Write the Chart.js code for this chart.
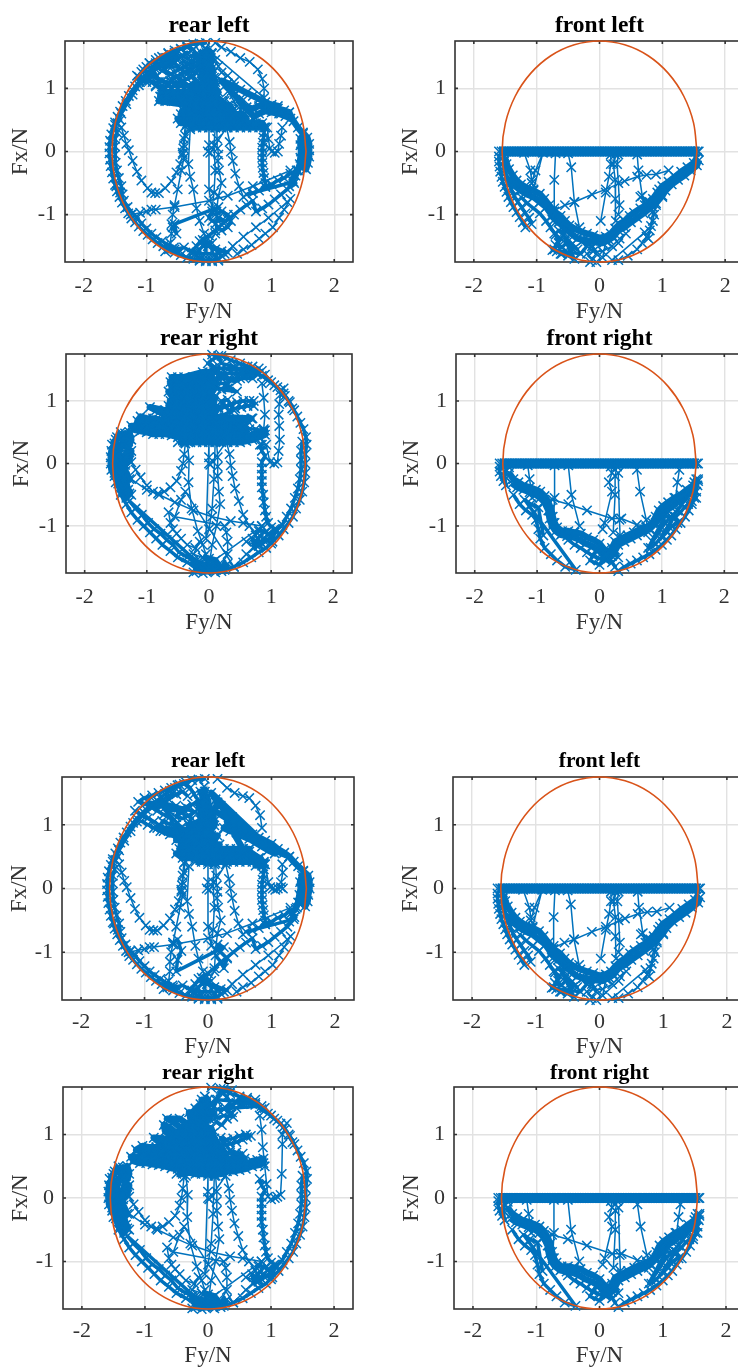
<!DOCTYPE html>
<html>
<head>
<meta charset="utf-8">
<style>
html, body { margin: 0; padding: 0; background: #fff; width: 738px; height: 1367px; overflow: hidden; position: relative; }
canvas { position: absolute; }
</style>
<script src="https://cdn.jsdelivr.net/npm/chart.js@4/dist/chart.umd.min.js"></script>
</head>
<body>
<script>
// -------------------------
// TICKS
// -------------------------
const fyTicks = [-2, -1, 0, 1, 2];
const fxTicks = [-1, 0, 1];

// -------------------------
// FRICTION ELLIPSE (fy, fx, fy, fx ...)
// -------------------------
const ellipseLine = [1.55,0,1.497,.453,1.342,.875,1.096,1.237,.775,1.516,.401,1.69,0,1.75,-.401,1.69,-.775,1.516,-1.096,1.237,-1.342,.875,-1.497,.453,-1.55,0,-1.497,-.453,-1.342,-.875,-1.096,-1.237,-.775,-1.516,-.401,-1.69,0,-1.75,.401,-1.69,.775,-1.516,1.096,-1.237,1.342,-.875,1.497,-.453,1.55,0];

// -------------------------
// REAR LEFT
// -------------------------
const rearLeftRim = [-.05,1.72,-.15,1.71,-.25,1.7,-.35,1.67,-.45,1.63,-.52,1.58,-.6,1.53,-.68,1.48,-.75,1.42,-.83,1.36,-.9,1.3,-.98,1.24,-1.05,1.17,-1.12,1.1,-1.18,1.03,-1.22,.97,-1.28,.88,-1.33,.8,-1.38,.72,-1.42,.63,-1.46,.55,-1.5,.46,-1.53,.37,-1.56,.27,-1.58,.17,-1.59,.07,-1.59,-.03,-1.58,-.13,-1.57,-.23,-1.55,-.33,-1.53,-.43,-1.5,-.53,-1.47,-.63,-1.43,-.72,-1.39,-.81,-1.34,-.9,-1.29,-.98,-1.24,-1.06,-1.18,-1.12,-1.12,-1.19,-1.05,-1.26,-.98,-1.32,-.9,-1.39,-.82,-1.45,-.73,-1.5,-.64,-1.55,-.55,-1.6,-.45,-1.64,-.35,-1.68,-.25,-1.7,-.15,-1.73,-.05,-1.74,.05,-1.74,.15,-1.73];
const rearLeftRimB = [-.55,1.5,-.7,1.4,-.85,1.3,-1,1.18,-1.12,1.05,-1.22,.9,-1.32,.75,-1.4,.6,-1.46,.45,-1.42,.5];
const rearLeftRimC = [-1.48,-.55,-1.42,-.65,-1.36,-.78,-1.3,-.88,-1.22,-.98,-1.15,-1.05,-1.08,-1.14,-1,-1.22,-.92,-1.3,-.84,-1.36,-.75,-1.42,-.66,-1.48,-.56,-1.52,-.46,-1.58];
const rearLeftInnerRim = [-1.5,.42,-1.47,.3,-1.5,.2,-1.5,.08,-1.5,-.05,-1.49,-.18,-1.47,-.3,-1.44,-.42,-1.4,-.55,-1.38,-.68];
const rearLeftArc = [-1.4,.38,-1.36,.25,-1.32,.12,-1.28,.02,-1.22,-.15,-1.15,-.32,-1.08,-.46,-.98,-.58,-.92,-.65,-.86,-.66,-.8,-.66,-.7,-.58,-.6,-.47,-.52,-.33,-.46,-.2,-.42,-.05,-.4,.1,-.38,.25,-.36,.42];
const rearLeftSpokes = [-.3,.35,-.33,-.2,-.3,-.4,-.25,-.6,-.2,-.9,-.15,-1.1,-.08,-1.3,-.02,-1.5,.1,-1.3,.12,-.95,.15,-.7,.2,-.5,.16,-.3,.14,-.15,.15,-.05,.14,.05,.13,.2,.12,.4,.1,.38,.08,.1,.1,-.3,.08,-.65,.05,-.9,0,-.6,0,.38,0,.1,-.02,0,.02,-.02,.28,.38,.33,.15,.35,0,.38,-.15,.42,-.35,.48,-.55,.55,-.72];
const rearLeftSpokeB = [-.38,.4,-.4,.2,-.41,.05,-.42,-.02,-.4,-.1,-.44,-.3,-.5,-.6,-.55,-.85,-.58,-1,-.6,-1.15,-.6,-1.3,-.62,-1.45,-.6,-1.55];
const rearLeftStrip = [.88,.38,.88,.3,.87,.22,.86,.14,.85,.06,.85,-.02,.85,-.1,.85,-.18,.86,-.26,.87,-.34,.88,-.42,.9,-.5,.9,-.56];
const rearLeftLongLine = [-1.25,-1,-1.1,-.97,-1,-.95,-.92,-.92,-.85,-.92,-.55,-.88,0,-.78,.3,-.7,.7,-.55,1.3,-.3];
const rearLeftLower = [1.4,-.3,1.3,-.35,1.2,-.42,1.1,-.46,1,-.52,.9,-.56,.8,-.62,.7,-.66,.6,-.68,1.35,-.48,1.25,-.6,1.15,-.68,1.05,-.76,.95,-.84,.85,-.9,.75,-.95,.7,-.78,.6,-.85,.5,-.92,.4,-1,.3,-1.08,.2,-1.16,.1,-1.25,0,-1.33,-.1,-1.4,-.2,-1.5,-.3,-1.6];
const rearLeftOuterLower = [1.3,-.75,1.2,-.92,1.12,-1.05,1.02,-1.2,.9,-1.3,.8,-1.38,.68,-1.48,.55,-1.55,.45,-1.62];
const rearLeftChord = [1.25,-.8,.95,-1.05,.75,-1.2,.55,-1.35,.38,-1.5,.25,-1.62];
const rearLeftBottom = [-.7,-1.58,-.55,-1.55,-.4,-1.52,-.25,-1.6,-.15,-1.7,-.05,-1.72,.05,-1.72,.15,-1.7,.2,-1.65,.1,-1.55,0,-1.5,-.1,-1.5,-.2,-1.6,-.1,-1.62,0,-1.62,.1,-1.63,.2,-1.58,.3,-1.6,-.15,-1.42,-.05,-1.42,.05,-1.45];

const rl1Core = [-.3,.38,-.2,.38,-.1,.38,0,.38,.1,.38,.2,.38,.3,.38,.4,.38,.5,.38,.6,.38,.7,.38,.8,.38,.9,.38,.85,.45,.75,.45,.65,.45,.55,.45,.45,.45,.35,.45,.25,.45,.15,.45,.05,.45,-.05,.45,-.15,.45,-.25,.45,-.35,.45,-.45,.45,-.5,.52,-.4,.52,-.3,.52,-.2,.52,-.1,.52,0,.52,.1,.52,.2,.52,.3,.52,.4,.52,.5,.52,.6,.52,.55,.59,.45,.59,.35,.59,.25,.59,.15,.59,.05,.59,-.05,.59,-.15,.59,-.25,.59,-.35,.59,-.45,.59,-.42,.66,-.32,.66,-.22,.66,-.12,.66,-.02,.66,.08,.66,.18,.66,.28,.66,.38,.66,.3,.73,.2,.73,.1,.73,0,.73,-.1,.73,-.2,.73,-.3,.73,-.8,.8,-.7,.8,-.6,.8,-.5,.8,-.4,.8,-.3,.8,-.2,.8,-.1,.8,0,.8,.1,.8,.2,.8,.12,.87,.02,.87,-.08,.87,-.18,.87,-.28,.87,-.38,.87,-.48,.87,-.58,.87,-.68,.87,-.78,.87,-.75,.94,-.65,.94,-.55,.94,-.45,.94,-.35,.94,-.25,.94,-.15,.94,-.05,.94,.05,.94,.15,.94,.1,1.01,0,1.01,-.1,1.01,-.2,1.01,-.3,1.01,-.1,1.1,0,1.1,.1,1.1,.08,1.17,-.02,1.17,-.12,1.17,-.12,1.24,-.02,1.24,.06,1.24,.05,1.32,-.04,1.32,-.14,1.32,-.14,1.4,-.05,1.4,.03,1.4,.03,1.48,-.05,1.48,-.14,1.48,-.12,1.56,-.04,1.56,.04,1.56,-.06,1.64];
const rl1Hatch = [-1.15,1.2,-1.05,1.17,-.95,1.12,-.85,1.05,-.75,1,-.65,.95,-.55,.88,-.45,.8,-.65,1.07,-.75,1.12,-.85,1.18,-.95,1.25,-1.05,1.3,-.95,1.4,-.85,1.45,-.75,1.5,-.65,1.55,-.55,1.6,-.45,1.62,-.35,1.65,-.25,1.62,-.2,1.5,-.15,1.4,-.3,1.3,-.4,1.25,-.5,1.2,-.6,1.15,-.55,1.05,-.45,1.1,-.35,1.15,-.25,1.2,-.22,1.1,-.32,1.05,-.72,1.3,-.65,1.35,-.55,1.42,-.45,1.5,-.35,1.55,-.85,1.35,-.75,1.28,-.62,1.22,-.38,1.35,-.28,1.42,-.25,1.3];
const rl1Fill = [-.65,1.56,-.55,1.56,-.5,1.48,-.6,1.48,-.7,1.48,-.8,1.48,-.95,1.4,-.85,1.4,-.75,1.4,-.65,1.4,-.55,1.4,-.48,1.34,-.6,1.34,-1,1.34,-1.08,1.26,-.98,1.26,-.88,1.26,-.85,1.18,-1,1.18,-1.12,1.18,-1.1,1.1,-1,1.1,-.9,1.1,-.8,1.1,-.7,1.1,-.6,1.1,-.5,1.1,-.4,1.1,-.35,1.03,-.45,1.03,-.55,1.03,-.65,1.03,-.75,1.03,-.85,1.03];
const rl1Columns = [-.42,1.2,-.42,1.28,-.42,1.36,-.42,1.44,-.42,1.52,-.35,1.55,-.35,1.47,-.35,1.39,-.35,1.31,-.35,1.23,-.28,1.2,-.28,1.28,-.28,1.36,-.28,1.44,-.28,1.52,-.2,1.55,-.2,1.47,-.2,1.39,-.2,1.31,-.2,1.23];
const rl1RightBranch = [.5,.72,.6,.7,.7,.68,.8,.72,.9,.72,1,.7,1.1,.68,1.2,.65,1.28,.62,1.22,.56,1.12,.6,1,.62,.9,.64,.8,.6,.72,.55,.2,1.12,.3,1.08,.4,1.03,.5,.98,.6,.93,.7,.88,.8,.83,.9,.78,1,.74,1.1,.72,1.05,.65,1.15,.6,1.3,.52,1.28,.62,1.35,.48,1.42,.38,1.5,.28];
const rl1TopArc = [.1,1.72,.2,1.65,.35,1.58,.5,1.48,.65,1.42,.78,1.3,.85,1.15,.88,1,.88,.85,.05,1.55,.1,1.45,.15,1.35,.2,1.25,.3,1.2,.4,1.1,.25,.8,.35,.75,.45,.72,.3,.95,.4,.9,.55,.82];
const rl1RightBlob = [1.5,.3,1.57,.22,1.6,.12,1.6,.02,1.6,-.08,1.58,-.18,1.55,-.28,1.5,-.25,1.52,-.15,1.54,-.05,1.53,.05,1.52,.15,1.46,.2,1.46,.1,1.47,0,1.46,-.1,1.45,-.2,1.42,-.3,1.38,-.38,1.32,-.45,1.36,-.5,1.28,-.55];
const rl1Loop = [.93,.38,.95,.2,.97,.05,1,0,1.05,-.02,1.1,0,1.12,.12,1.15,.25,1.17,.38];
const rl1Middle = [.1,-1,.2,-.95,.3,-1,.35,-1.1,.3,-1.2,.2,-1.25,.1,-1.15,.15,-1.05,.25,-1.1,.05,-1.1,0,-1.05,.05,-.95,.15,-.88,-.55,-1.15,-.52,-1.3,-.58,-1.2];

const rl3Core = [-.2,.42,-.1,.42,0,.42,.1,.42,.2,.42,.3,.42,.4,.42,.5,.42,.6,.42,.7,.42,.8,.42,.88,.42,.85,.36,.75,.36,.82,.48,.7,.48,.6,.48,.5,.48,.4,.48,.3,.48,.2,.48,.1,.48,0,.48,-.1,.48,-.2,.48,-.3,.48,-.4,.48,-.5,.55,-.4,.55,-.3,.55,-.2,.55,-.1,.55,0,.55,.1,.55,.2,.55,.3,.55,.4,.55,.5,.55,.6,.55,.65,.62,.55,.62,.45,.62,.35,.62,.25,.62,.15,.62,.05,.62,-.05,.62,-.15,.62,-.25,.62,-.35,.62,-.45,.62,-.42,.69,-.32,.69,-.22,.69,-.12,.69,-.02,.69,.08,.69,.18,.69,-.5,.76,-.4,.76,-.3,.76,-.2,.76,-.1,.76,0,.76,.1,.76,.15,.83,.05,.83,-.05,.83,-.15,.83,-.25,.83,-.35,.83,-.45,.83,-.6,.85,-.7,.9,-.8,.95,-.55,.92,-.45,.92,-.35,.92,-.25,.92,-.15,.92,-.05,.92,.05,.92,.1,.99,0,.99,-.1,.99,-.2,.99,-.3,.99,-.1,1.06,0,1.06,.1,1.06,.08,1.13,-.02,1.13,-.12,1.13,-.12,1.2,-.02,1.2,.06,1.2,.02,1.28,-.06,1.28,-.14,1.28,-.14,1.36,-.06,1.36,0,1.36,-.02,1.44,-.08,1.44,-.12,1.52,-.05,1.52,-.06,1.6];
const rl3Hatch = [-1.15,1.22,-1.05,1.15,-.95,1.1,-.85,1.05,-.75,.98,-.65,.93,-.55,.88,-.45,.8,-.6,1.12,-.7,1.16,-.8,1.22,-.9,1.28,-1,1.33,-1.1,1.36,-1,1.42,-.88,1.46,-.78,1.5,-.68,1.54,-.58,1.58,-.48,1.62,-.38,1.64,-.28,1.58,-.22,1.48,-.15,1.38,-.25,1.32,-.35,1.28,-.45,1.22,-.5,1.12,-.4,1.1,-.3,1.15,-.2,1.2,-.8,1.38,-.72,1.32,-.62,1.4,-.5,1.48,-.4,1.52,-.32,1.45];
const rl3Fill = [-1.05,1.06,-.95,1,-.85,.95,-.75,.9,-.72,1.06,-.62,1.02,-.52,1,-.42,.96,-.7,1.25,-.6,1.2,-.5,1.3,-.4,1.2,-.3,1.25,-.95,1.36,-.85,1.3,-.55,1.25,-.25,1.1,-.3,1.05];
const rl3RightBranch = [.5,.52,.6,.5,.7,.45,.8,.4,.88,.4,.8,.48,.65,.58,.55,.62,.3,1.05,.4,1,.5,.95,.6,.9,.7,.85,.8,.8,.9,.75,1,.7,1.1,.62,1.2,.56,1.28,.5,.25,.95,.35,.9,.45,.88,.55,.82,.65,.78,.75,.72,.85,.66,.95,.6,1.05,.55,.05,1.5,.12,1.4,.2,1.3,.28,1.2,.38,1.12,.15,1.35,.1,1.22,1.28,.5,1.35,.42,1.42,.35,1.5,.28];
const rl3TopArc = [.15,1.72,.3,1.58,.42,1.5,.55,1.45,.65,1.42,.75,1.3,.82,1.15,.85,.95];
const rl3RightBlob = [1.5,.27,1.58,.2,1.6,.1,1.6,0,1.58,-.1,1.57,-.2,1.53,-.28,1.48,-.2,1.5,-.1,1.52,0,1.5,.1,1.48,.2,1.45,.1,1.46,0,1.44,-.1,1.42,-.22,1.38,-.32,1.32,-.38,1.36,-.45,1.28,-.52];
const rl3Loop = [.9,.38,.95,.1,.98,.02,1.02,0,1.06,-.02,1.1,0,1.15,.02,1.18,0,1.15,.1,1.18,.25,1.17,.38];
const rl3Middle = [.12,-1.05,.2,-1.15,.25,-1.25,.3,-1.1,.2,-1,.15,-.88,.25,-.92,-.5,-1.3,-.48,-1.12,-.42,-.98,-.48,-.8,-.55,-.85];

// -------------------------
// REAR RIGHT
// -------------------------
const rearRightRim = [.05,1.74,.2,1.72,.35,1.65,.5,1.6,.62,1.55,.75,1.47,.85,1.4,.95,1.33,1.05,1.25,1.15,1.17,1.22,1.08,1.3,.98,1.37,.85,1.42,.75,1.47,.65,1.52,.55,1.56,.42,1.57,.3,1.55,.15,1.55,0,1.55,-.15,1.53,-.3,1.5,-.45,1.46,-.58,1.4,-.72,1.35,-.85,1.28,-.95,1.2,-1.05,1.12,-1.15,1.02,-1.25,.92,-1.35,.8,-1.42,.68,-1.5,.55,-1.58,.4,-1.65,.25,-1.7,.1,-1.74,-.1,-1.75,-.25,-1.74];
const rearRightRimB = [1.5,.35,1.48,.2,1.48,.05,1.48,-.1,1.46,-.25,1.43,-.4,1.38,-.55,1.32,-.72,1.25,-.85,1.18,-.98,1.08,-1.08,1,-1.18,.9,-1.25,.8,-1.32];
const rearRightRimC = [.9,1.42,1,1.3,1.1,1.22,1.2,1.12,1.28,1,1.34,.88];
const rearRightLeftArc = [-1.5,-.3,-1.42,-.5,-1.33,-.65,-1.25,-.78,-1.15,-.9,-1.05,-1,-.95,-1.1,-.85,-1.2,-.75,-1.3,-.62,-1.4,-.5,-1.5,-.35,-1.58,-.2,-1.65,-.05,-1.7,-1.28,-.6,-1.18,-.72,-1.08,-.82,-.98,-.95,-.88,-1.05,-.78,-1.12,-.68,-1.22,-.58,-1.3,-.48,-1.42,-.35,-1.5,-.2,-1.55];
const rearRightLeftBlob = [-1.42,.5,-1.48,.42,-1.52,.32,-1.57,.2,-1.58,.1,-1.58,0,-1.57,-.1,-1.52,-.2,-1.46,-.32,-1.4,-.45,-1.33,-.55,-1.28,-.48,-1.32,-.35,-1.38,-.2,-1.42,-.08,-1.45,.05,-1.44,.18,-1.4,.3,-1.33,.42,-1.28,.5,-1.25,.38,-1.3,.25,-1.35,.1,-1.38,0,-1.34,-.12,-1.28,-.25,-1.5,.1,-1.5,-.05,-1.5,.25];
const rearRightBlobB = [-1.56,.3,-1.5,.38,-1.42,.42,-1.35,.48,-1.3,.35,-1.36,.3,-1.42,.3,-1.48,.25,-1.55,.1,-1.48,.1,-1.4,.1,-1.32,.15,-1.25,.2,-1.28,.05,-1.35,-.02,-1.42,-.05,-1.5,-.1,-1.52,-.15,-1.45,-.2,-1.38,-.3,-1.3,-.42,-1.25,-.5];
const rearRightInner = [-1.25,.02,-1.18,-.1,-1.1,-.22,-1,-.35,-.9,-.45,-.82,-.48,-.72,-.45,-.62,-.38,-.52,-.28,-.45,-.12,-.42,0,-.4,.15,-.38,.32];
const rearRightLongLine = [-1.25,-.25,-1,-.42,-.8,-.5,-.55,-.62,-.25,-.75,.05,-.85,.35,-.92,.55,-.95,.85,-1];
const rearRightSpokes = [-.35,.35,-.32,.05,-.33,-.3,-.28,-.72,-.18,-1.08,-.1,-1.3,-.05,-1.45,0,-1.65,.05,-1.3,.12,-1,.18,-.65,.16,-.45,.14,-.2,.14,-.05,.14,.1,.12,.35,.1,.35,.08,-.25,.05,-.72,0,-1.05,-.05,-1.2,0,.35,0,.1,0,0,.02,-.02,.28,.35,.33,.15,.35,-.03,.38,-.2,.42,-.4,.48,-.6,.55,-.82,.65,-1,.75,-1.15,.82,-1.25];
const rearRightStrip = [.82,.3,.85,.2,.9,.12,.85,.02,.85,-.08,.85,-.18,.85,-.28,.85,-.38,.87,-.5,.88,-.62,.9,-.75,.92,-.85,.95,-.95,1,-1.02];
const rearRightLower = [-.65,-.78,-.62,-.95,-.58,-1.05,-.52,-1.12,-.45,-1.2,-.35,-1.3,-.22,-1.35,-.15,-1.25,-.25,-1.45,-.1,-1.5,.05,-1.58,.2,-1.62,.3,-1.45,.3,-1.25,.28,-1.1,.25,-1,-.55,-.85,-.45,-.58,-.38,-.45,.4,-1.65,.6,-1.45,.8,-1.28,.95,-1.12,1.05,-1.05,.75,-1.3,.6,-1.25,.8,-1.08,.85,-1,-.1,-1.68,0,-1.7,.1,-1.7,.2,-1.72,-.2,-1.72];
const rearRightCorner = [.8,-1.05,.9,-1.1,1,-1.15,1.08,-1.05,1,-1.28,.9,-1.2,.8,-1.3,.7,-1.2,.72,-1.35,.82,-1.15];
const rearRightBottom = [-.1,-1.5,0,-1.52,.1,-1.55,.15,-1.62,.05,-1.65,-.05,-1.62,-.15,-1.6,-.25,-1.55,-.2,-1.68,-.05,-1.72,.08,-1.72,.2,-1.68,.3,-1.6];

const rr2Core = [-.5,.34,-.4,.34,-.3,.34,-.2,.34,-.1,.34,0,.34,.1,.34,.2,.34,.3,.34,.4,.34,.5,.34,.6,.36,.7,.38,.8,.42,.9,.46,.9,.53,.8,.5,.7,.46,.6,.42,.5,.42,.4,.42,.3,.42,.2,.42,.1,.42,0,.42,-.1,.42,-.2,.42,-.3,.42,-.4,.42,-.5,.42,-.6,.45,-.7,.47,-.8,.47,-.9,.47,-1,.5,-1.1,.52,-1.2,.54,-1.25,.6,-1.12,.6,-1,.58,-.9,.55,-.8,.55,-.7,.55,-.6,.52,-.5,.5,-.4,.5,-.3,.5,-.2,.5,-.1,.5,0,.5,.1,.5,.2,.5,.3,.5,.4,.5,.5,.5,.6,.5,.55,.58,.45,.58,.35,.58,.25,.58,.15,.58,.05,.58,-.05,.58,-.15,.58,-.25,.58,-.35,.58,-.45,.58,-.55,.6,-.65,.62,-.75,.63,-.85,.63,-.95,.65,-1.05,.67,-1.15,.68,-1.1,.75,-1,.72,-.9,.72,-.8,.7,-.7,.7,-.6,.68,-.5,.66,-.4,.66,-.3,.66,-.2,.66,-.1,.66,0,.66,.1,.66,.2,.66,.3,.66,.4,.66,.5,.68,.6,.7,.68,.72,.25,.74,.15,.74,.05,.74,-.05,.74,-.15,.74,-.25,.74,-.35,.74,-.45,.74,-.55,.74,-.65,.78,-.75,.8,-.85,.85,-.95,.9,-.7,.85,-.6,.82,-.5,.82,-.4,.82,-.3,.82,-.2,.82,-.1,.82,0,.82,.1,.82,.15,.9,.05,.9,-.05,.9,-.15,.9,-.25,.9,-.35,.9,-.45,.9,-.55,.9,-.65,.92,-.62,1,-.52,.98,-.42,.98,-.32,.98,-.22,.98,-.12,.98,-.02,.98,.08,.98,.1,1.06,0,1.06,-.1,1.06,-.2,1.06,-.3,1.06,-.4,1.06,-.5,1.06,-.6,1.08,-.65,1.15,-.55,1.14,-.45,1.14,-.35,1.14,-.25,1.14,-.15,1.14,-.05,1.14,.05,1.14,.1,1.22,0,1.22,-.1,1.22,-.2,1.22,-.3,1.22,-.4,1.22,-.5,1.22,-.6,1.22,-.62,1.3,-.52,1.3,-.42,1.3,-.32,1.3,-.22,1.3,-.12,1.3,-.02,1.3,.08,1.3,.05,1.38,-.05,1.38,-.15,1.38,-.25,1.38,-.6,1.38,-.5,1.38,-.4,1.38,-.1,1.46,0,1.46,.08,1.46,.1,1.54];
const rr2Fingers = [.15,.88,.25,.9,.35,.95,.45,.98,.55,1,.65,1,.72,1,.72,.92,.62,.92,.52,.9,.42,.88,.32,.85,.2,1,.3,1.02,.4,.85,.1,.72,.2,.72,.3,.7,.4,.7,.55,.7,.7,.72,.6,.62,.5,.6,.65,.55,.75,.55,.88,.52];
const rr2Top = [.15,1.42,.25,1.38,.35,1.35,.45,1.32,.55,1.38,.65,1.42,.75,1.45,.85,1.48,.3,1.5,.4,1.55,.2,1.6,.15,1.72,.05,1.66,-.02,1.6,.12,1.52,.55,1.52,.7,1.55,.25,1.25,.32,1.2,.45,1.15,.2,1.18];
const rr2TopFill = [.12,1.2,.3,1.2,.3,1.28,.1,1.28,.1,1.36,.2,1.36,.32,1.36,.5,1.36,.7,1.36,.8,1.44,.6,1.44,.4,1.44,.2,1.44,.1,1.44,.05,1.52,.2,1.52,.4,1.52,.6,1.52,.8,1.52];
const rr2RightDrop = [.85,1.28,.88,1.05,.9,.78,.88,.55,.85,.3,.92,.3,.98,.02,1.05,0,1.1,.02,1.12,.2,1.14,.38,1.13,.6,1.12,.78,1.13,.95,1.15,1.1,1.2,1.2];

const rr4Core = [-.5,.38,-.4,.38,-.3,.4,-.2,.38,-.1,.38,0,.38,.1,.38,.2,.38,.3,.42,.4,.42,.5,.44,.6,.46,.7,.5,.8,.52,.88,.55,.88,.62,.78,.6,.7,.58,.62,.54,.52,.52,.42,.5,.32,.48,.22,.46,.12,.46,.02,.46,-.08,.46,-.18,.46,-.28,.46,-.38,.46,-.48,.46,-.58,.47,-.68,.5,-.78,.52,-.88,.53,-.98,.55,-1.08,.55,-1.18,.58,-1.22,.65,-1.12,.65,-1,.63,-.9,.62,-.8,.6,-.7,.58,-.6,.55,-.5,.54,-.4,.54,-.3,.54,-.2,.54,-.1,.54,0,.54,.1,.54,.2,.54,.3,.54,.42,.58,.5,.6,.58,.62,.48,.66,.36,.62,.26,.62,.16,.62,.06,.62,-.04,.62,-.14,.62,-.24,.62,-.34,.62,-.44,.62,-.54,.62,-.64,.65,-.74,.68,-.84,.7,-.94,.72,-1.04,.74,-1.14,.76,-1.04,.82,-.94,.8,-.82,.8,-.72,.76,-.62,.72,-.52,.7,-.42,.7,-.32,.7,-.22,.7,-.12,.7,-.02,.7,.08,.7,.18,.7,.28,.7,.22,.78,.12,.78,.02,.78,-.08,.78,-.18,.78,-.28,.78,-.38,.78,-.48,.78,-.58,.8,-.68,.85,-.78,.88,-.86,.95,-.66,.93,-.55,.88,-.45,.86,-.35,.86,-.25,.86,-.15,.86,-.05,.86,.05,.86,.15,.86,.1,.94,0,.94,-.1,.94,-.2,.94,-.3,.94,-.4,.94,-.5,.96,-.6,1,-.68,1.05,-.7,1.15,-.62,1.12,-.52,1.04,-.42,1.02,-.32,1.02,-.22,1.02,-.12,1.02,-.02,1.02,.08,1.02,.05,1.1,-.05,1.1,-.15,1.1,-.25,1.1,-.35,1.1,-.45,1.12,-.55,1.2,-.65,1.25,-.45,1.25,-.35,1.18,-.25,1.18,-.15,1.18,-.05,1.18,.02,1.25,-.08,1.25,-.18,1.25,-.28,1.26,-.3,1.35,-.2,1.33,-.1,1.33,0,1.33,.1,1.33,-.02,1.41,-.1,1.41,-.2,1.41,-.12,1.48,-.05,1.48,.02,1.48,-.1,1.55,0,1.55,-.05,1.6];
const rr4Fingers = [.15,.82,.25,.85,.35,.85,.45,.88,.55,.92,.62,.96,.68,.98,.6,1,.5,.98,.4,.94,.3,.92,.2,.95,.35,.75,.45,.72,.55,.7,.2,.7,.25,.88];
const rr4Top = [.12,1.2,.22,1.15,.3,1.25,.38,1.35,.45,1.42,.55,1.48,.65,1.5,.75,1.55,.85,1.45,.15,1.4,.25,1.4,.35,1.5,.3,1.6,.2,1.68,.12,1.55,.05,1.46,.25,1.72,.38,1.7];
const rr4TopFill = [.1,1.25,.25,1.3,.4,1.28,.28,1.42,.45,1.5,.6,1.5,.7,1.48,.5,1.58,.62,1.58,.75,1.5,.15,1.55,.05,1.35];
const rr4RightDrop = [.82,1.3,.85,1.08,.87,.8,.9,.5,.93,.22,.95,.02,1,-.02,1.06,0,1.1,.02,1.15,.05,1.17,.38,1.18,.85,1.18,1,1.25,1.18];

// -------------------------
// FRONT WHEELS (band along Fx = 0 is the same on all four)
// -------------------------
const frontBandFy = [-1.6,-1.56,-1.52,-1.48,-1.44,-1.4,-1.36,-1.32,-1.28,-1.24,-1.2,-1.16,-1.12,-1.08,-1.04,-1,-.96,-.92,-.88,-.84,-.8,-.76,-.72,-.68,-.64,-.6,-.56,-.52,-.48,-.44,-.4,-.36,-.32,-.28,-.24,-.2,-.16,-.12,-.08,-.04,0,.04,.08,.12,.16,.2,.24,.28,.32,.36,.4,.44,.48,.52,.56,.6,.64,.68,.72,.76,.8,.84,.88,.92,.96,1,1.04,1.08,1.12,1.16,1.2,1.24,1.28,1.32,1.36,1.4,1.44,1.48,1.52,1.56,1.58];

const frontLeftRim = [-1.6,-.08,-1.6,-.16,-1.59,-.24,-1.58,-.32,-1.56,-.4,-1.54,-.48,-1.51,-.56,-1.48,-.64,-1.45,-.72,-1.41,-.8,-1.37,-.88,-1.32,-.96,-1.27,-1.04,-1.22,-1.12,-1.18,-1.2];
const frontLeftRimB = [-1.52,-.06,-1.52,-.16,-1.5,-.28,-1.48,-.38,-1.44,-.5,-1.4,-.6,-1.36,-.7,-1.3,-.8,-1.24,-.88,-1.18,-.98,-1.12,-1.05,-1.08,-1.15];
const frontLeftBand = [-1.5,-.12,-1.48,-.2,-1.44,-.28,-1.38,-.38,-1.32,-.46,-1.25,-.52,-1.15,-.58,-1.05,-.62,-.95,-.67,-.88,-.75,-.8,-.85,-.72,-.95,-.62,-1.02,-.55,-1.1,-.48,-1.17,-.4,-1.22,-.3,-1.27,-.2,-1.3,-.1,-1.33,0,-1.37,.1,-1.35,.18,-1.3,.25,-1.22,.32,-1.15,.4,-1.1,.48,-1.02,.55,-.97,.65,-.9,.75,-.85,.85,-.75,.92,-.65,1,-.55,1.1,-.48,1.2,-.4,1.3,-.32,1.4,-.25,1.5,-.18,1.55,-.1];
const frontLeftBandB = [-1.42,-.42,-1.35,-.54,-1.25,-.62,-1.15,-.68,-1.05,-.72,-.95,-.8,-.85,-.88,-.75,-1.02,-.65,-1.12,-.55,-1.22,-.45,-1.3,-.35,-1.38,-.25,-1.4,-.15,-1.42,-.05,-1.44,.05,-1.45,.15,-1.4,.22,-1.35,.3,-1.25,.4,-1.2,.5,-1.12,.6,-1.05,.7,-.98,.8,-.9,.9,-.82,1,-.7,1.05,-.62,1.15,-.52,1.25,-.45,1.35,-.38,1.45,-.3,1.55,-.22,1.58,-.14];
const frontLeftCross = [-1.25,-.72,-1.15,-.82,-1.05,-.9,-.95,-.98,-.85,-1.1,-.78,-1.2,-.7,-1.32,-.65,-1.45,-.72,-1.55,-.6,-1.62,-.5,-1.65,-.4,-1.7,-.55,-1.4,-.45,-1.48,-.35,-1.55,-.65,-1.25,-.55,-1.3];
const frontLeftFillLow = [-.72,-1.3,-.62,-1.38,-.7,-1.48,-.6,-1.52,-.5,-1.42,-.42,-1.55,-.5,-1.6,-.62,-1.62,-.68,-1.58,-.75,-1.56,-.3,-1.62,-.2,-1.5,-.28,-1.42,-.12,-1.5,-.05,-1.62];
const frontLeftRight = [.9,-.85,.87,-1,.85,-1.1,.8,-1.25,.75,-1.35,.68,-1.45,.6,-1.55,.45,-1.65,.3,-1.72,.2,-1.72,.72,-1.28,.82,-1.18,.78,-1.38,.85,-.95,.65,-.72,.75,-.78,.85,-.88,1,-.72,.95,-.6,.8,-.8];
const frontLeftLow = [-.12,-1.72,-.15,-1.75,-.05,-1.75,-.2,-1.62,-.1,-1.58,.05,-1.58,.2,-1.5,.1,-1.42,.05,-1.68,.3,-1.45,.42,-1.3,.32,-1.38];
const frontLeftSpokes = [-1.2,-.02,-1.1,-.3,-1.08,-.45,-1.05,-.6,-.9,-.02,-1.02,-.3,-1.08,-.5];
const frontLeftSpokeB = [-.7,-.03,-.72,-.45,-.72,-.9,-.74,-1.1];
const frontLeftSpokeC = [-.5,-.03,-.45,-.25,-.4,-.8,-.32,-1.2];
const frontLeftSpokeD = [.18,-.05,.18,-.2,.15,-.4,.1,-.65,.02,-1.1];
const frontLeftSpokeE = [.25,-.05,.22,-.2,.25,-.45,.25,-.75,.26,-1.1];
const frontLeftSpokeF = [.3,-.05,.28,-.2,.3,-.5,.32,-.85,.3,-1];
const frontLeftSpokeG = [.6,-.05,.62,-.3,.68,-.7,.72,-.85];
const frontLeftChord = [-.75,-.95,-.55,-.85,-.4,-.8,-.12,-.68,.1,-.6,.4,-.47,.6,-.4,.75,-.37,.9,-.36,1.1,-.3];

const frontRightBand = [-1.45,-.15,-1.38,-.25,-1.3,-.3,-1.22,-.35,-1.12,-.38,-1.02,-.42,-.95,-.45,-.88,-.52,-.82,-.62,-.78,-.72,-.75,-.85,-.72,-.95,-.68,-1.02,-.6,-1.08,-.5,-1.08,-.4,-1.1,-.3,-1.12,-.2,-1.18,-.1,-1.22,0,-1.28,.08,-1.38,.15,-1.42,.2,-1.35,.25,-1.25,.35,-1.2,.45,-1.15,.55,-1.1,.65,-1.05,.75,-1.02,.85,-.95,.9,-.85,.95,-.75,1.02,-.68,1.1,-.62,1.2,-.55,1.3,-.5,1.4,-.42,1.5,-.35,1.55,-.25];
const frontRightBandB = [-1.4,-.32,-1.32,-.38,-1.22,-.42,-1.12,-.46,-1.02,-.5,-.95,-.55,-.88,-.62,-.82,-.75,-.8,-.88,-.76,-1,-.7,-1.08,-.62,-1.14,-.52,-1.16,-.42,-1.18,-.32,-1.22,-.22,-1.28,-.12,-1.32,-.02,-1.38,.06,-1.46,.14,-1.52,.22,-1.45,.3,-1.3,.4,-1.25,.5,-1.2,.6,-1.15,.7,-1.1,.8,-1.05,.9,-.95,.98,-.85,1.05,-.75,1.15,-.7,1.25,-.62,1.35,-.55,1.45,-.48,1.52,-.42];
const frontRightLeftRim = [-1.6,-.05,-1.6,-.13,-1.58,-.2,-1.54,-.28,-1.5,-.35,-1.52,-.2,-1.5,-.1,-1.45,-.06];
const frontRightCross = [-1.38,-.5,-1.28,-.65,-1.18,-.75,-1.08,-.82,-1.02,-.9,-.98,-1.05,-.95,-1.2,-.88,-1.35,-.78,-1.45,-.68,-1.55,-.55,-1.65,-.38,-1.7,-1.2,-.58,-1.1,-.65,-.98,-.7,-.9,-1.15];
const frontRightRim = [1.58,-.25,1.57,-.35,1.55,-.45,1.52,-.55,1.48,-.65,1.43,-.75,1.37,-.85,1.3,-.95,1.22,-1.05,1.15,-1.15,1.08,-1.22,1,-1.3,.9,-1.38,.8,-1.45,.7,-1.5,.6,-1.55,.5,-1.6,.4,-1.65,.3,-1.72];
const frontRightRimB = [1.58,-.28,1.52,-.3,1.5,-.42,1.45,-.5,1.55,-.55,1.48,-.6,1.42,-.65,1.36,-.7,1.3,-.78,1.22,-.85,1.25,-.95,1.15,-1,1.08,-1.1,1,-1.18,.9,-1.28,.82,-1.35];
const frontRightInner = [1.4,-.55,1.32,-.65,1.25,-.75,1.15,-.85,1.05,-.95,.98,-1.05,.92,-1.15,.85,-1.25,.78,-1.35,1.1,-.75,1.2,-.65,1,-.85,1.2,-.85,1.1,-1,1,-1.15];
const frontRightLow = [-.6,-1.12,-.5,-1.22,-.4,-1.3,-.3,-1.35,-.2,-1.42,-.1,-1.48,0,-1.52,.1,-1.55,.2,-1.58,.25,-1.65,.15,-1.5,.05,-1.42,-.05,-1.38,-.15,-1.55,0,-1.62,.1,-1.45,.2,-1.48,.25,-1.38,.3,-1.5];
const frontRightSpokeA = [-1.15,-.03,-1.12,-.25,-1.08,-.55];
const frontRightSpokeB = [-.72,-.03,-.72,-.55,-.74,-.95];
const frontRightSpokeC = [-.5,-.03,-.45,-.5,-.32,-1];
const frontRightSpokeD = [.18,-.05,.2,-.15,.15,-.3,.2,-.45,.08,-.95,.05,-1.05];
const frontRightSpokeE = [.28,-.05,.25,-.2,.25,-.5,.22,-1.1];
const frontRightSpokeF = [.3,-.15,.32,-.9,.33,-1.15];
const frontRightSpokeG = [.6,-.1,.65,-.45,.75,-.9,.78,-1.1];
const frontRightSpokeH = [1.28,-.1,1.25,-.3,1.22,-.55];
const frontRightChord = [-.75,-.58,-.5,-.65,-.2,-.75,.2,-.88,.35,-.88,.6,-.98,.75,-1];

// -------------------------
// PANELS
// thin = plain trace, medium = where the trace runs over itself, solid = fully saturated blobs
// -------------------------
const rearLeftThin = [rearLeftArc, rearLeftSpokes, rearLeftSpokeB, rearLeftLongLine, rearLeftOuterLower, rearLeftChord];
const rearLeftMedium = [rearLeftRim, rearLeftRimB, rearLeftRimC, rearLeftInnerRim, rearLeftStrip, rearLeftBottom, rearLeftLower];
const rearRightThin = [rearRightInner, rearRightLongLine, rearRightSpokes, rearRightLower];
const rearRightMedium = [rearRightRim, rearRightRimB, rearRightRimC, rearRightLeftArc, rearRightStrip, rearRightCorner];
const rearRightSolid = [rearRightLeftBlob, rearRightBlobB, rearRightBottom];
const frontLeftThin = [frontLeftRight, frontLeftLow, frontLeftSpokes, frontLeftSpokeB, frontLeftSpokeC, frontLeftSpokeD, frontLeftSpokeE, frontLeftSpokeF, frontLeftSpokeG, frontLeftChord];
const frontLeftMedium = [frontLeftRim, frontLeftRimB, frontLeftCross, frontLeftFillLow];
const frontRightThin = [frontRightSpokeA, frontRightSpokeB, frontRightSpokeC, frontRightSpokeD, frontRightSpokeE, frontRightSpokeF, frontRightSpokeG, frontRightSpokeH, frontRightChord];
const frontRightMedium = [frontRightLeftRim, frontRightRim, frontRightRimB, frontRightCross, frontRightInner, frontRightLow];

const panels = [
  { title: "rear left", left: 65, right: 353, top: 41, bottom: 262, size: 23.5, gap: 1, room: 63, tickPad: 11, yLab: 5,
    thin: rearLeftThin.concat([rl1TopArc, rl1Loop, rl1Columns]), medium: rearLeftMedium.concat([rl1Hatch, rl1Fill, rl1Middle]), solid: [rl1Core, rl1RightBlob, rl1RightBranch] },
  { title: "front left", left: 455, right: 744, top: 41, bottom: 262, size: 23.5, gap: 1, room: 63, tickPad: 11, yLab: 5,
    thin: frontLeftThin, medium: frontLeftMedium, solid: [frontLeftBand, frontLeftBandB], band: true },
  { title: "rear right", left: 66, right: 352, top: 354, bottom: 573, size: 23.5, gap: 1, room: 63, tickPad: 11, yLab: 5,
    thin: rearRightThin.concat([rr2RightDrop]), medium: rearRightMedium.concat([rr2Top, rr2TopFill, rr2Fingers]), solid: rearRightSolid.concat([rr2Core]) },
  { title: "front right", left: 456, right: 743, top: 354, bottom: 573, size: 23.5, gap: 1, room: 63, tickPad: 11, yLab: 5,
    thin: frontRightThin, medium: frontRightMedium, solid: [frontRightBand, frontRightBandB], band: true },
  { title: "rear left", left: 62, right: 354, top: 777, bottom: 1000, size: 21.5, gap: 2, room: 60, tickPad: 9, yLab: 7,
    thin: rearLeftThin.concat([rl3TopArc, rl3Loop]), medium: rearLeftMedium.concat([rl3Hatch, rl3Fill, rl3Middle]), solid: [rl3Core, rl3RightBlob, rl3RightBranch] },
  { title: "front left", left: 453, right: 746, top: 777, bottom: 1000, size: 21.5, gap: 2, room: 60, tickPad: 9, yLab: 7,
    thin: frontLeftThin, medium: frontLeftMedium, solid: [frontLeftBand, frontLeftBandB], band: true },
  { title: "rear right", left: 63, right: 353, top: 1087, bottom: 1309, size: 22, gap: 1, room: 60, tickPad: 9, yLab: 7,
    thin: rearRightThin.concat([rr4RightDrop]), medium: rearRightMedium.concat([rr4Top, rr4TopFill, rr4Fingers]), solid: rearRightSolid.concat([rr4Core]) },
  { title: "front right", left: 454, right: 745, top: 1087, bottom: 1309, size: 22, gap: 1, room: 60, tickPad: 9, yLab: 7,
    thin: frontRightThin, medium: frontRightMedium, solid: [frontRightBand, frontRightBandB], band: true }
];

const BLUE = "#0072BD";
const ORANGE = "#D95319";
const AXIS = "#333333";
const LEFT_ROOM = 62;

// fy, fx, fy, fx ... into chart points
function toPoints(flat) {
  const pts = [];
  for (let i = 0; i < flat.length; i += 2) pts.push({ x: flat[i], y: flat[i + 1] });
  return pts;
}

function trackDataset(points, width) {
  return {
    data: points,
    borderColor: BLUE,
    borderWidth: width,
    borderJoinStyle: "round",
    pointStyle: "crossRot",
    pointRadius: 6.6,
    pointBorderColor: BLUE,
    pointBorderWidth: 1.5,
    pointBackgroundColor: BLUE,
    clip: false,
    tension: 0
  };
}

// box and inward ticks on all four sides, under the data like MATLAB does
const axesBox = {
  id: "axesBox",
  beforeDatasetsDraw(chart) {
    const c = chart.ctx, a = chart.chartArea;
    const sx = chart.scales.x, sy = chart.scales.y;
    c.save();
    c.strokeStyle = AXIS;
    c.lineWidth = 1.6;
    c.strokeRect(a.left, a.top, a.right - a.left, a.bottom - a.top);
    c.beginPath();
    sx.ticks.forEach(t => {
      const px = sx.getPixelForValue(t.value);
      c.moveTo(px, a.bottom); c.lineTo(px, a.bottom - 3);
      c.moveTo(px, a.top); c.lineTo(px, a.top + 3);
    });
    sy.ticks.forEach(t => {
      const py = sy.getPixelForValue(t.value);
      c.moveTo(a.left, py); c.lineTo(a.left + 3, py);
      c.moveTo(a.right, py); c.lineTo(a.right - 3, py);
    });
    c.stroke();
    c.restore();
  }
};

function drawPanel(p) {
  const titleBox = Math.round(p.size * 1.2 + p.gap);
  const cv = document.createElement("canvas");
  const w = p.right - p.left + LEFT_ROOM + 14;
  const h = p.bottom - p.top + titleBox + p.room;
  cv.width = w;
  cv.height = h;
  cv.style.left = (p.left - LEFT_ROOM) + "px";
  cv.style.top = (p.top - titleBox) + "px";
  cv.style.width = w + "px";
  cv.style.height = h + "px";
  document.body.appendChild(cv);

  const datasets = [{
    data: toPoints(ellipseLine),
    borderColor: ORANGE,
    borderWidth: 1.6,
    pointRadius: 0,
    tension: 0.34,
    clip: false
  }];
  p.thin.forEach(t => datasets.push(trackDataset(toPoints(t), 1.5)));
  p.medium.forEach(t => datasets.push(trackDataset(toPoints(t), 3.5)));
  p.solid.forEach(t => datasets.push(trackDataset(toPoints(t), 6.5)));
  if (p.band) datasets.push(trackDataset(frontBandFy.map(v => ({ x: v, y: 0 })), 10));

  new Chart(cv.getContext("2d"), {
    type: "scatter",
    data: { datasets: datasets },
    plugins: [axesBox],
    options: {
      responsive: false,
      animation: false,
      devicePixelRatio: 1,
      showLine: true,
      events: [],
      layout: { autoPadding: false, padding: { left: 0, right: 14, top: 0, bottom: 0 } },
      plugins: {
        legend: { display: false },
        tooltip: { enabled: false },
        title: {
          display: true,
          fullSize: false,
          text: p.title,
          color: "#000",
          padding: { top: 0, bottom: titleBox - p.size * 1.2 },
          font: { family: "'Liberation Serif'", size: p.size, weight: "bold", lineHeight: 1.2 }
        }
      },
      scales: {
        x: {
          type: "linear",
          min: -2.3,
          max: 2.3,
          afterBuildTicks: s => { s.ticks = fyTicks.map(v => ({ value: v })); },
          afterFit: s => { s.height = p.room; },
          grid: { color: "#e2e2e2", lineWidth: 1.4, drawTicks: false },
          border: { display: false },
          ticks: {
            color: AXIS,
            padding: p.tickPad,
            maxRotation: 0,
            font: { family: "'Liberation Serif'", size: 22 }
          },
          title: {
            display: true,
            text: "Fy/N",
            color: AXIS,
            padding: 0,
            font: { family: "'Liberation Serif'", size: 23, lineHeight: 1.1 }
          }
        },
        y: {
          type: "linear",
          min: -1.75,
          max: 1.75,
          afterBuildTicks: s => { s.ticks = fxTicks.map(v => ({ value: v })); },
          afterFit: s => { s.width = LEFT_ROOM; },
          grid: { color: "#e2e2e2", lineWidth: 1.4, drawTicks: false },
          border: { display: false },
          ticks: {
            color: AXIS,
            padding: 9,
            font: { family: "'Liberation Serif'", size: 22 }
          },
          title: {
            display: true,
            text: "Fx/N",
            color: AXIS,
            padding: { top: p.yLab, bottom: 0 },
            font: { family: "'Liberation Serif'", size: 23, lineHeight: 1.1 }
          }
        }
      }
    }
  });
}

panels.forEach(drawPanel);
</script>
</body>
</html>
